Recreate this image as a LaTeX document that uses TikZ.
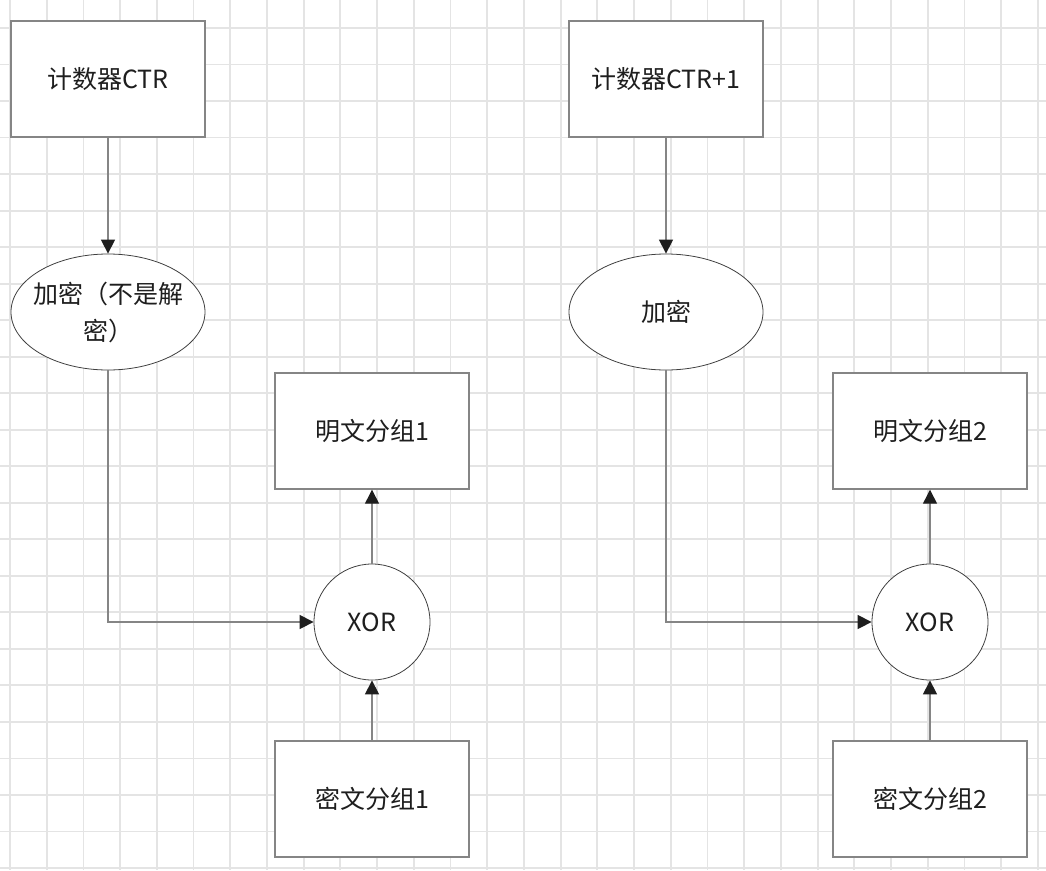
\documentclass[tikz,border=0pt]{standalone}
\usepackage{fontspec}
\setmainfont{Noto Sans CJK SC}
\usepackage{tikz}
\usetikzlibrary{shapes.geometric,arrows.meta,positioning}
\definecolor{gridgray}{HTML}{E4E4E4}
\definecolor{edgegray}{HTML}{858585}
\definecolor{inkgray}{HTML}{1E1E1E}

\begin{document}
\begin{tikzpicture}[
    x=1pt, y=-1pt,
    gridline/.style={draw=gridgray, line width=1.8pt},
    block/.style={rectangle, draw=edgegray, fill=white, line width=1.4pt, minimum width=194pt, minimum height=116pt, inner sep=0pt, text=inkgray, font=\fontsize{25}{36}\selectfont},
    cipher/.style={ellipse, draw=inkgray!85, fill=white, line width=0.8pt, minimum width=194pt, minimum height=116pt, inner sep=0pt},
    xorop/.style={circle, draw=inkgray!85, fill=white, line width=0.8pt, minimum size=116pt, inner sep=0pt, text=inkgray, font=\fontsize{25}{36}\selectfont},
    txt/.style={text=inkgray, align=center, font=\fontsize{25}{37}\selectfont},
    flow/.style={-{Triangle[length=14pt, width=14pt, color=inkgray]}, draw=edgegray, line width=1.3pt}
]
    \useasboundingbox (0,0) rectangle (1046,870);
    \fill[white] (0,0) rectangle (1046,870);
    % background grid
    \foreach \i in {0,...,28}
        \draw[gridline] ({10+36.71*\i},0) -- ({10+36.71*\i},870);
    \foreach \j in {0,...,23}
        \draw[gridline] (0,{28+36.52*\j}) -- (1046,{28+36.52*\j});

    % first block
    \node[block] (ctrA) at (108,79) {计数器CTR};
    \node[cipher, label={[txt]center:加密（不是解\\密）}] (encA) at (108,312) {};
    \node[block] (plainA) at (372,431) {明文分组1};
    \node[xorop] (xorA) at (372,622) {XOR};
    \node[block] (cipherA) at (372,799) {密文分组1};

    % second block
    \node[block] (ctrB) at (666,79) {计数器CTR+1};
    \node[cipher, label={[txt]center:加密}] (encB) at (666,312) {};
    \node[block] (plainB) at (930,431) {明文分组2};
    \node[xorop] (xorB) at (930,622) {XOR};
    \node[block] (cipherB) at (930,799) {密文分组2};

    \draw[flow] (ctrA) -- (encA);
    \draw[flow] (encA.south) |- (xorA);
    \draw[flow] (cipherA) -- (xorA);
    \draw[flow] (xorA) -- (plainA);

    \draw[flow] (ctrB) -- (encB);
    \draw[flow] (encB.south) |- (xorB);
    \draw[flow] (cipherB) -- (xorB);
    \draw[flow] (xorB) -- (plainB);
\end{tikzpicture}
\end{document}
